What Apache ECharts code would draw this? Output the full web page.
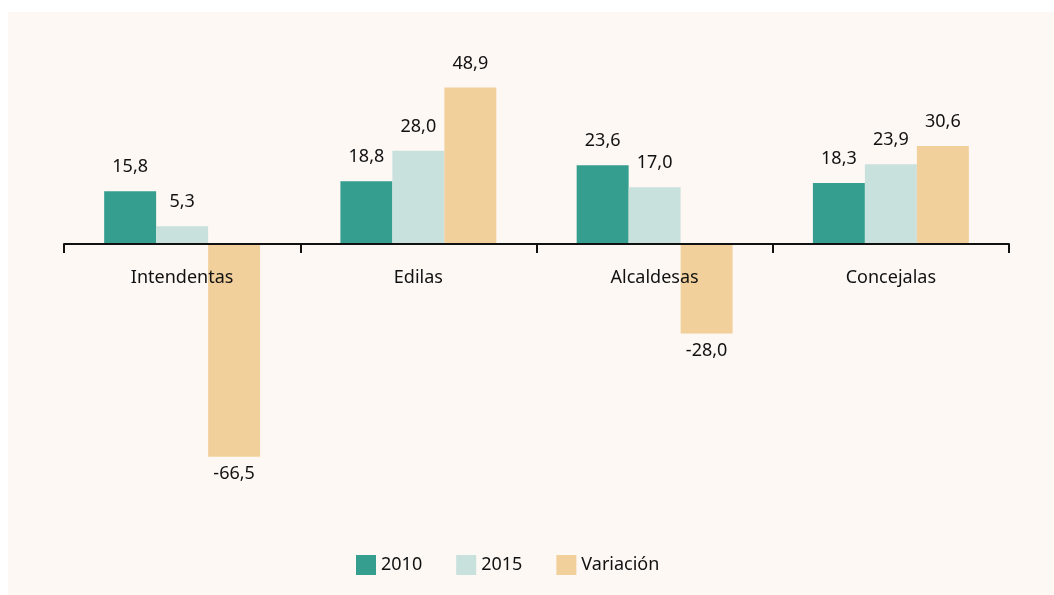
<!DOCTYPE html>
<html>
<head>
<meta charset="utf-8">
<script src="https://cdn.jsdelivr.net/npm/echarts@6/dist/echarts.min.js"></script>
<style>
  html, body { margin: 0; padding: 0; background: #ffffff; }
  #chart { width: 1054px; height: 595px; }
</style>
</head>
<body>
<div id="chart"></div>
<script>
// datos
const categorias = ["Intendentas", "Edilas", "Alcaldesas", "Concejalas"];
const serieNombres = ["2010", "2015", "Variación"];
const valores2010 = [15.8, 18.8, 23.6, 18.3];
const valores2015 = [5.3, 28.0, 17.0, 23.9];
const variacion = [-66.5, 48.9, -28.0, 30.6];

const colores = ["#369e8e", "#c9e1dc", "#f2d09c"];
const fuente = "'Noto Sans', 'Open Sans', sans-serif";

function fmt(p) {
  return p.value.toFixed(1).replace(".", ",");
}

// posicion de la etiqueta segun el signo
function datos(arr) {
  return arr.map(function (v) {
    return {
      value: v,
      label: v < 0 ? { position: "bottom", distance: 8 } : { position: "top", distance: 15 }
    };
  });
}

function serie(nombre, arr, color, yIdx) {
  return {
    name: nombre,
    type: "bar",
    yAxisIndex: yIdx,
    barGap: 0,
    barCategoryGap: "34%",
    animation: false,
    itemStyle: { color: color },
    label: {
      show: true,
      formatter: fmt,
      color: "#111111",
      fontSize: 18,
      fontFamily: fuente
    },
    data: datos(arr)
  };
}

const chart = echarts.init(document.getElementById("chart"));

const option = {
  backgroundColor: "#ffffff",
  graphic: [
    {
      type: "rect",
      z: -10,
      shape: { x: 8, y: 12, width: 1046, height: 583 },
      style: { fill: "#fdf8f4" }
    }
  ],
  legend: {
    bottom: 15,
    left: 351,
    itemWidth: 20,
    itemHeight: 20,
    itemGap: 34,
    icon: "rect",
    textStyle: { fontSize: 18, color: "#111111", fontFamily: fuente },
    data: serieNombres
  },
  grid: { left: 64, right: 45, top: 44, bottom: 111 },
  xAxis: {
    type: "category",
    data: categorias,
    z: 10,
    offset: -240,
    axisLine: { onZero: false, lineStyle: { color: "#111111", width: 2 } },
    axisTick: { show: true, length: 9, lineStyle: { color: "#111111", width: 2 } },
    axisLabel: { margin: 25, fontSize: 18, color: "#111111", fontFamily: fuente }
  },
  yAxis: [
    { type: "value", min: -72, max: 60, show: false, splitLine: { show: false } },
    { type: "value", min: -75, max: 62.5, show: false, splitLine: { show: false } }
  ],
  series: [
    serie(serieNombres[0], valores2010, colores[0], 0),
    serie(serieNombres[1], valores2015, colores[1], 0),
    serie(serieNombres[2], variacion, colores[2], 1)
  ]
};

chart.setOption(option);
</script>
</body>
</html>
